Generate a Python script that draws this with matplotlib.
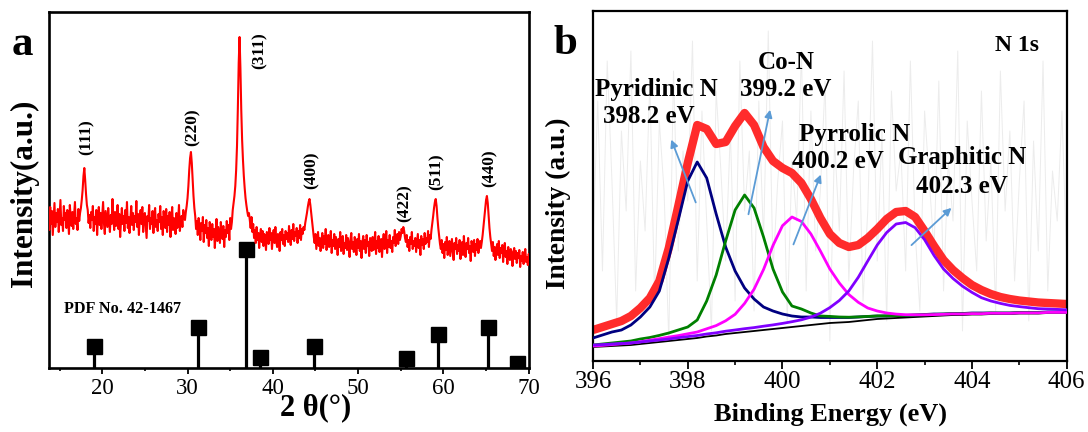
import numpy as np
import matplotlib
matplotlib.use("Agg")
import matplotlib.pyplot as plt

plt.rcParams['font.family'] = ['Liberation Serif', 'DejaVu Serif']

# ---------------- Panel a: XRD ----------------
xrd_start, xrd_step = 13.7, 0.1
xrd_intensity = [
    152, 138, 161, 144, 157, 133, 149, 165, 141, 155,
    146, 159, 136, 152, 168, 143, 150, 137, 162, 148,
    155, 140, 158, 147, 134, 163, 151, 142, 156, 139,
    153, 166, 144, 150, 138, 159, 147, 155, 160, 168,
    178, 192, 200, 188, 174, 163, 158, 145, 153, 140,
    156, 148, 162, 137, 151, 144, 158, 133, 150, 161,
    143, 155, 139, 152, 166, 145, 134, 157, 149, 141,
    160, 147, 136, 153, 144, 169, 151, 138, 156, 142,
    150, 163, 139, 154, 131, 147, 160, 144, 152, 137,
    158, 145, 166, 140, 151, 135, 149, 162, 143, 155,
    138, 152, 146, 167, 141, 154, 133, 150, 158, 144,
    161, 136, 149, 155, 142, 130, 152, 147, 163, 139,
    150, 144, 157, 135, 153, 160, 141, 148, 137, 154,
    146, 162, 139, 151, 133, 157, 145, 140, 159, 136,
    152, 143, 156, 131, 148, 161, 138, 150, 144, 134,
    155, 140, 149, 163, 137, 146, 152, 141, 158, 150,
    148, 156, 162, 170, 182, 198, 210, 216, 205, 188,
    172, 160, 152, 139, 147, 133, 150, 142, 128, 145,
    137, 151, 126, 143, 135, 148, 130, 140, 122, 146,
    134, 128, 144, 131, 139, 120, 137, 149, 127, 141,
    133, 125, 146, 136, 129, 142, 121, 138, 131, 147,
    135, 143, 128, 150, 139, 146, 158, 165, 172, 182,
    198, 222, 260, 305, 331, 300, 258, 228, 208, 192,
    180, 170, 163, 157, 152, 155, 148, 140, 151, 136,
    144, 130, 138, 125, 141, 128, 135, 120, 133, 139,
    126, 137, 122, 134, 129, 118, 136, 131, 124, 140,
    128, 135, 119, 132, 138, 125, 141, 127, 121, 134,
    130, 117, 136, 128, 139, 124, 133, 122, 137, 129,
    135, 126, 142, 131, 123, 138, 129, 144, 127, 136,
    132, 140, 125, 137, 130, 143, 128, 139, 134, 141,
    138, 145, 150, 155, 161, 166, 169, 163, 155, 147,
    140, 131, 125, 134, 119, 128, 136, 122, 130, 117,
    127, 135, 120, 132, 124, 139, 118, 129, 133, 121,
    126, 137, 115, 128, 122, 134, 119, 131, 125, 113,
    129, 121, 136, 117, 127, 132, 114, 125, 120, 133,
    118, 130, 123, 111, 128, 135, 119, 126, 116, 131,
    124, 113, 129, 120, 134, 117, 127, 110, 125, 132,
    119, 128, 115, 133, 122, 126, 112, 130, 121, 117,
    131, 118, 125, 136, 114, 127, 120, 132, 116, 124,
    129, 111, 126, 134, 119, 123, 137, 115, 128, 121,
    133, 120, 127, 116, 131, 125, 138, 122, 129, 134,
    124, 136, 128, 132, 139, 135, 141, 137, 130, 126,
    133, 121, 128, 117, 131, 124, 136, 119, 127, 122,
    130, 116, 125, 134, 120, 128, 113, 132, 123, 129,
    119, 135, 124, 130, 126, 137, 121, 133, 129, 138,
    145, 152, 160, 166, 169, 162, 150, 140, 132, 124,
    119, 128, 115, 124, 110, 126, 118, 131, 113, 122,
    127, 112, 121, 129, 116, 108, 125, 119, 130, 114,
    123, 117, 128, 109, 120, 126, 113, 132, 118, 111,
    125, 119, 130, 115, 122, 107, 127, 121, 116, 128,
    112, 124, 118, 129, 115, 122, 127, 120, 126, 133,
    142, 150, 160, 168, 172, 165, 152, 140, 131, 124,
    117, 126, 112, 121, 108, 119, 124, 113, 127, 110,
    120, 115, 123, 106, 118, 125, 111, 117, 104, 121,
    113, 108, 119, 116, 102, 114, 120, 109, 117, 105,
    115, 110, 118, 101, 112, 107, 116, 104, 113, 119,
    106, 111, 103, 114, 108,
]
xrd_two_theta = np.round(xrd_start + xrd_step * np.arange(len(xrd_intensity)), 2)

pdf_positions = [19.00, 31.27, 36.85, 38.55, 44.81, 55.66, 59.36, 65.24, 68.63]
pdf_heights = [22, 41, 119, 11, 22, 10, 34, 41, 5]

hkl_labels = ['(111)', '(220)', '(311)', '(400)', '(422)', '(511)', '(440)']
hkl_x = [18.2, 30.6, 38.5, 44.5, 55.5, 59.2, 65.4]
hkl_y = [230.7, 240.7, 317.3, 198, 165.3, 196.3, 199.7]

xrd_xticks = [20, 30, 40, 50, 60, 70]
xrd_minor = [15, 25, 35, 45, 55, 65]

# ---------------- Panel b: XPS N 1s ----------------
be_start, be_step = 396.0, 0.2
baseline = [14, 14.5, 15, 15.5, 16, 17, 18, 19, 20, 21, 22, 23, 24.5, 25.5, 27, 28, 29, 30, 31, 32,
            33, 34, 35, 36, 37, 38, 38.5, 39, 40, 41, 42, 42.5, 43, 43.5, 44, 44.5, 45, 45.5, 46, 46,
            46.5, 46.5, 47, 47, 47, 47.5, 47.5, 47.5, 48, 48, 48]
pyridinic = [23, 26, 29, 31, 36, 44, 54, 70, 103, 141, 180, 199, 183, 147, 114, 90, 73, 62, 54, 50,
             47, 45, 44, 44, 43.5, 43.5, 43.5, 43.5, 44, 44.5, 45, 45, 45.5, 45.5, 46, 46.5, 47, 47, 47.5, 47.5,
             48, 48, 48, 48, 48, 48.5, 48.5, 48.5, 49, 49, 49]
con = [16, 17, 18, 19, 20, 22, 23.5, 25.6, 28, 31, 34, 41, 60, 86, 120, 151, 166, 153, 124, 92,
       69, 55, 52, 48, 45, 44.6, 44, 43.8, 44.1, 44.6, 45, 45.1, 45.3, 45.6, 45.9, 46.2, 46.5, 46.9, 47.3, 47.2,
       47.6, 47.5, 48, 47.9, 47.9, 48.3, 48.3, 48.2, 48.7, 48.7, 48.7]
pyrrolic = [15, 15.6, 16.4, 17.2, 18, 19.2, 20.8, 22.3, 23.9, 25.4, 27.2, 29, 32.2, 35.4, 40.2, 46.7, 57.6, 71.8, 91.5, 115.6,
            135.3, 144, 139.5, 127, 110, 92, 78, 66.5, 58.7, 53, 50, 48, 46.9, 46.3, 46.2, 46.2, 46.4, 46.7, 47.1, 47,
            47.4, 47.3, 47.8, 47.7, 47.7, 48.1, 48.1, 48.1, 48.6, 48.6, 48.6]
graphitic = [16, 16.4, 17, 17.5, 18, 19, 20, 21, 22, 23.3, 24.4, 25.5, 27, 28.2, 29.8, 31, 32.3, 33.4, 34.8, 36.1,
             37.6, 39.3, 41.2, 43.9, 47.8, 53.4, 60.5, 70, 83.7, 100, 116, 128.5, 137, 138.5, 133.3, 121.3, 105.5, 92, 82.5, 74.8,
             68.6, 63.3, 60, 57.6, 55.6, 54.4, 53.3, 52.3, 52, 51.6, 51.2]
envelope = [31, 34, 37, 40, 45, 53, 63, 80, 113, 155, 198, 236, 232, 217, 219, 235, 248, 236, 214, 200,
            193, 188, 178, 162, 143, 127, 118, 114, 116, 123, 132, 142, 149, 150, 144, 130, 115, 101, 91, 83,
            76, 71, 67, 64, 62, 60.5, 59.5, 58.5, 58, 57.5, 57]
be = np.round(be_start + be_step * np.arange(len(envelope)), 2)

raw_start, raw_step = 396.0, 0.1
raw_counts = [
    120, 260, 90, 300, 180, 40, 230, 150, 310, 70,
    200, 130, 280, 60, 240, 170, 20, 290, 110, 210,
    160, 320, 80, 250, 140, 30, 270, 190, 100, 230,
    60, 300, 150, 210, 50, 260, 120, 330, 90, 180,
    240, 40, 200, 140, 310, 70, 250, 110, 170, 280,
    20, 220, 130, 290, 80, 190, 260, 60, 150, 320,
    100, 230, 40, 270, 170, 210, 90, 300, 130, 50,
    250, 180, 110, 280, 70, 200, 140, 310, 30, 240,
    160, 90, 270, 120, 200, 50, 290, 150, 230, 80,
    180, 260, 40, 220, 110, 300, 70, 190, 140, 250,
    100,
]
raw_be = np.round(raw_start + raw_step * np.arange(len(raw_counts)), 2)

peak_names = ['Pyridinic N', 'Co-N', 'Pyrrolic N', 'Graphitic N']
peak_energies = ['398.2 eV', '399.2 eV', '400.2 eV', '402.3 eV']
name_xy = [(397.34, 271.5), (400.08, 298), (401.53, 226.4), (403.79, 203)]
energy_xy = [(397.18, 244.8), (400.07, 271.5), (401.17, 199.7), (403.79, 174.6)]
arrow_tail = [(398.19, 156), (399.27, 144), (400.21, 114), (402.68, 114)]
arrow_head = [(397.63, 224), (399.75, 254), (400.83, 189), (403.61, 155)]

xps_xticks = [396, 398, 400, 402, 404, 406]
xps_minor = [397, 399, 401, 403, 405]

# ---------------- Figure ----------------
fig = plt.figure(figsize=(10.88, 4.32), dpi=100)
axa = fig.add_axes([0.04458, 0.14815, 0.44136, 0.82407])
axb = fig.add_axes([0.54504, 0.16435, 0.43539, 0.81019])

# Panel a
axa.plot(xrd_two_theta, xrd_intensity, color='#ff0000', lw=1.5, zorder=3)
axa.vlines(pdf_positions, 0, pdf_heights, color='black', lw=2.3, zorder=2)
axa.plot(pdf_positions, pdf_heights, 's', color='black', ms=10.8, zorder=2)
for lab, x, y in zip(hkl_labels, hkl_x, hkl_y):
    axa.text(x, y, lab, rotation=90, ha='center', va='center', fontsize=12.5, fontweight='bold')
axa.text(15.47, 55, 'PDF No. 42-1467', ha='left', va='baseline', fontsize=11.7, fontweight='bold')
axa.set_xlim(13.7, 70)
axa.set_ylim(0, 356)
axa.set_xticks(xrd_xticks)
axa.set_xticks(xrd_minor, minor=True)
axa.set_yticks([])
axa.tick_params(axis='x', which='major', direction='out', length=4, width=1.3, labelsize=16.5, pad=3)
axa.tick_params(axis='x', which='minor', direction='out', length=2.5, width=1.2)
for s in axa.spines.values():
    s.set_linewidth(1.9)

# Panel b
axb.plot(raw_be, raw_counts, color='#ececec', lw=0.7, zorder=1)
axb.plot(be, envelope, color='#ff2b2b', lw=6, solid_joinstyle='round', solid_capstyle='butt', zorder=2)
axb.plot(be, baseline, color='black', lw=1.3, zorder=3)
for vals, col in zip([pyridinic, con, pyrrolic, graphitic], ['#000080', '#008000', '#ff00ff', '#8000ff']):
    axb.plot(be, vals, color=col, lw=2.0, solid_joinstyle='round', zorder=4)
for nm, en, nxy, exy, t, h in zip(peak_names, peak_energies, name_xy, energy_xy, arrow_tail, arrow_head):
    axb.text(nxy[0], nxy[1], nm, ha='center', va='center', fontsize=18, fontweight='bold', zorder=6)
    axb.text(exy[0], exy[1], en, ha='center', va='center', fontsize=18, fontweight='bold', zorder=6)
    axb.annotate('', xy=h, xytext=t,
                 arrowprops=dict(arrowstyle='-|>', color='#5b9bd5', lw=1.3, mutation_scale=11),
                 zorder=5)
axb.text(404.95, 315, 'N 1s', ha='center', va='center', fontsize=17, fontweight='bold')
axb.set_xlim(396, 406)
axb.set_ylim(0, 350)
axb.set_xticks(xps_xticks)
axb.set_xticks(xps_minor, minor=True)
axb.set_yticks([])
axb.tick_params(axis='x', which='major', direction='out', length=5.5, width=1.3, labelsize=18, pad=2)
axb.tick_params(axis='x', which='minor', direction='out', length=3, width=1.2)
for s in axb.spines.values():
    s.set_linewidth(1.6)

# Axis titles and panel letters
fig.text(0.0222, 0.553, 'Intensity(a.u.)', rotation=90, ha='center', va='center', fontsize=22.5, fontweight='bold')
fig.text(316 / 1088, 1 - 415 / 432, '2 θ(°)', ha='center', va='baseline', fontsize=22, fontweight='bold')
fig.text(0.5129, 0.530, 'Intensity (a.u.)', rotation=90, ha='center', va='center', fontsize=19.7, fontweight='bold')
fig.text(830 / 1088, 1 - 421 / 432, 'Binding Energy (eV)', ha='center', va='baseline', fontsize=19, fontweight='bold')
fig.text(22.5 / 1088, 1 - 55 / 432, 'a', ha='center', va='baseline', fontsize=31, fontweight='bold')
fig.text(565 / 1088, 1 - 54 / 432, 'b', ha='center', va='baseline', fontsize=31, fontweight='bold')

fig.savefig('out.png', dpi=100)
